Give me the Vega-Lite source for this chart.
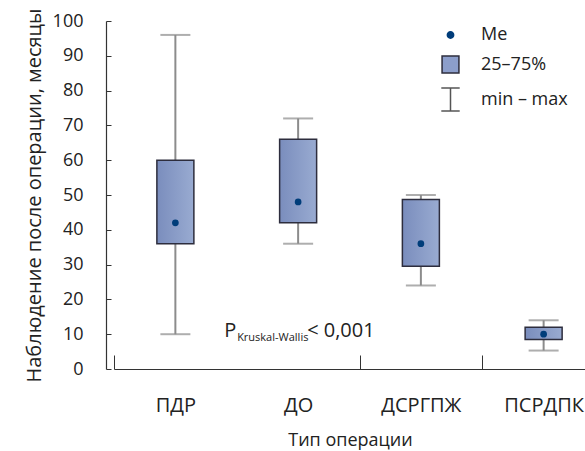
{
  "$schema": "https://vega.github.io/schema/vega-lite/v6.json",
  "width": 480,
  "height": 348,
  "autosize": "none",
  "padding": {"left": 106, "top": 21, "right": 0, "bottom": 82},
  "background": "white",
  "config": {
    "font": "Open Sans",
    "view": {"stroke": null},
    "axis": {"grid": false, "domainColor": "#333", "tickColor": "#333", "labelColor": "#222", "titleColor": "#222", "titleFontWeight": "normal", "labelFont": "Open Sans", "titleFont": "Open Sans"}
  },
  "datasets": {
    "boxes": [
      {"op": "ПДР", "min": 10, "q1": 36, "med": 42, "q3": 60, "max": 96},
      {"op": "ДО", "min": 36, "q1": 42, "med": 48, "q3": 66, "max": 72},
      {"op": "ДСРГПЖ", "min": 24, "q1": 29.5, "med": 36, "q3": 48.7, "max": 50},
      {"op": "ПСРДПК", "min": 5.3, "q1": 8.5, "med": 10, "q3": 12, "max": 14}
    ],
    "legend": [
      {"k": "Me"},
      {"k": "25–75%"},
      {"k": "min – max"}
    ],
    "note": [
      {"p": "P", "sub": "Kruskal-Wallis", "rest": "< 0,001"}
    ]
  },
  "layer": [
    {
      "data": {"name": "boxes"},
      "mark": {"type": "rule", "color": "#8c8c8c", "strokeWidth": 2},
      "encoding": {
        "x": {"field": "op", "type": "nominal", "sort": null,
          "scale": {"paddingInner": 0, "paddingOuter": 0, "range": [8, 499]},
          "axis": {"title": "Тип операции", "titleFontSize": 18, "titlePadding": 16, "titleX": 244, "labelFontSize": 20, "labelAngle": 0, "labelPadding": 40, "tickBand": "extent", "tickSize": -14, "domainWidth": 1.2,
            "tickOpacity": {"condition": {"test": "datum.value === 'ПДР'", "value": 0}, "value": 1}}},
        "y": {"field": "min", "type": "quantitative",
          "scale": {"domain": [0, 100], "nice": false, "zero": true},
          "axis": {"title": "Наблюдение после операции, месяцы", "titleFontSize": 20, "titlePadding": 8, "labelFontSize": 18, "values": [0,10,20,30,40,50,60,70,80,90,100], "tickCount": 11, "labelOverlap": false, "labelBound": false, "tickSize": -5, "labelPadding": 28, "domainWidth": 1.2}},
        "y2": {"field": "max"}
      }
    },
    {
      "data": {"name": "boxes"},
      "mark": {"type": "tick", "color": "#8c8c8c", "thickness": 2, "size": 30},
      "encoding": {
        "x": {"field": "op", "type": "nominal", "sort": null},
        "y": {"field": "min", "type": "quantitative"}
      }
    },
    {
      "data": {"name": "boxes"},
      "mark": {"type": "tick", "color": "#8c8c8c", "thickness": 2, "size": 30},
      "encoding": {
        "x": {"field": "op", "type": "nominal", "sort": null},
        "y": {"field": "max", "type": "quantitative"}
      }
    },
    {
      "data": {"name": "boxes"},
      "mark": {"type": "bar", "width": 37, "stroke": "#2d2d3d", "strokeWidth": 1.5,
        "color": {"gradient": "linear", "x1": 0, "y1": 0, "x2": 1, "y2": 0,
          "stops": [{"offset": 0, "color": "#7a8dbd"}, {"offset": 1, "color": "#99abd1"}]}},
      "encoding": {
        "x": {"field": "op", "type": "nominal", "sort": null},
        "y": {"field": "q1", "type": "quantitative"},
        "y2": {"field": "q3"}
      }
    },
    {
      "data": {"name": "boxes"},
      "mark": {"type": "point", "filled": true, "color": "#003d7a", "size": 45, "opacity": 1},
      "encoding": {
        "x": {"field": "op", "type": "nominal", "sort": null},
        "y": {"field": "med", "type": "quantitative"}
      }
    },
    {
      "data": {"name": "note"},
      "mark": {"type": "text", "align": "left", "baseline": "alphabetic", "fontSize": 20, "dx": -74, "color": "#222"},
      "encoding": {
        "x": {"datum": "ДО", "type": "nominal"},
        "y": {"datum": 9.2, "type": "quantitative"},
        "text": {"field": "p"}
      }
    },
    {
      "data": {"name": "note"},
      "mark": {"type": "text", "align": "left", "baseline": "alphabetic", "fontSize": 11, "dx": -61, "dy": 4, "color": "#222"},
      "encoding": {
        "x": {"datum": "ДО", "type": "nominal"},
        "y": {"datum": 9.2, "type": "quantitative"},
        "text": {"field": "sub"}
      }
    },
    {
      "data": {"name": "note"},
      "mark": {"type": "text", "align": "left", "baseline": "alphabetic", "fontSize": 20, "dx": 9, "color": "#222"},
      "encoding": {
        "x": {"datum": "ДО", "type": "nominal"},
        "y": {"datum": 9.2, "type": "quantitative"},
        "text": {"field": "rest"}
      }
    },
    {
      "data": {"name": "legend"},
      "mark": {"type": "point", "filled": true, "opacity": 0},
      "encoding": {
        "fill": {"field": "k", "type": "nominal",
          "scale": {"domain": ["Me", "25–75%", "min – max"], "range": ["#003d7a", "#8c9ecb", "transparent"]},
          "legend": {"title": null, "orient": "none", "legendX": 332, "legendY": 5, "padding": 0,
            "labelFontSize": 18, "labelFont": "Open Sans", "labelColor": "#222", "labelOffset": 18, "rowPadding": 9,
            "symbolStrokeWidth": 1.5,
            "encode": {"symbols": {"update": {"opacity": {"value": 1}}}}}},
        "stroke": {"field": "k", "type": "nominal",
          "scale": {"domain": ["Me", "25–75%", "min – max"], "range": ["#003d7a", "#2d2d3d", "#555555"]}},
        "shape": {"field": "k", "type": "nominal",
          "scale": {"domain": ["Me", "25–75%", "min – max"], "range": ["circle", "square", "M-0.8,-1H0.8M0,-1V1M-0.8,1H0.8"]}},
        "size": {"field": "k", "type": "nominal",
          "scale": {"domain": ["Me", "25–75%", "min – max"], "range": [40, 529, 484]}}
      }
    }
  ]
}
